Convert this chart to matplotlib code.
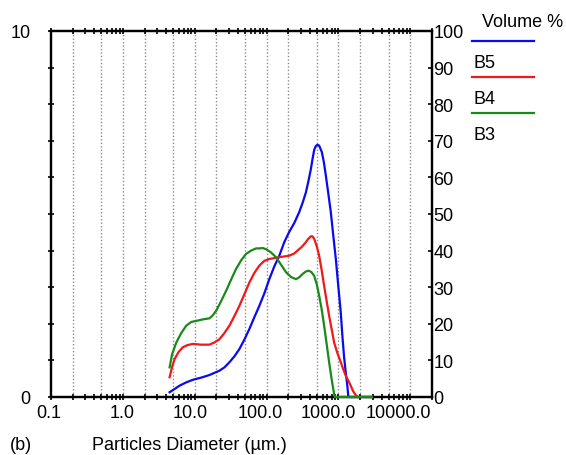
import matplotlib
matplotlib.use("Agg")
import matplotlib.pyplot as plt
from matplotlib.lines import Line2D

plt.rcParams["font.family"] = ["Liberation Sans", "DejaVu Sans"]
plt.rcParams["font.size"] = 13

# particle size distributions (size in um, volume %)
size_b5 = [4.47, 5.25, 6.15, 7.62, 9.41, 12.3, 16.0, 18.8, 22.1, 25.9, 30.4, 35.6,
           41.8, 49.1, 57.6, 67.5, 79.2, 92.9, 109, 128, 150, 176, 206, 242, 284,
           316, 352, 379, 413, 435, 459, 484, 510, 538, 587, 625, 667, 717, 782,
           842, 918, 987, 1076, 1133, 1196, 1263, 1329, 1372, 2900]
vol_b5 = [0.13, 0.22, 0.31, 0.40, 0.47, 0.53, 0.60, 0.66, 0.72, 0.81, 0.95, 1.11,
          1.31, 1.57, 1.86, 2.18, 2.49, 2.83, 3.22, 3.57, 3.86, 4.23, 4.51, 4.75, 5.05,
          5.30, 5.59, 5.87, 6.23, 6.50, 6.75, 6.86, 6.89, 6.87, 6.69, 6.42, 6.05, 5.60, 5.05,
          4.45, 3.77, 3.09, 2.31, 1.67, 1.09, 0.66, 0.30, 0.0, 0.0]

size_b4 = [4.47, 4.84, 5.25, 5.96, 6.84, 7.95, 9.41, 12.3, 16.0, 18.8, 22.1, 25.9,
           30.4, 35.6, 41.8, 49.1, 57.6, 67.5, 79.2, 92.9, 109, 150, 206, 242, 269,
           308, 352, 379, 413, 435, 459, 497, 538, 583, 631, 684, 741, 802, 869, 965,
           1076, 1158, 1263, 1358, 1481, 1594, 1738, 1829, 2900]
vol_b4 = [0.54, 0.82, 1.04, 1.23, 1.36, 1.42, 1.45, 1.43, 1.43, 1.49, 1.58, 1.75,
          1.95, 2.21, 2.49, 2.81, 3.13, 3.39, 3.59, 3.72, 3.77, 3.82, 3.86, 3.92, 4.00,
          4.10, 4.23, 4.32, 4.39, 4.39, 4.32, 4.13, 3.86, 3.47, 3.04, 2.62, 2.22, 1.86, 1.49, 1.20,
          0.95, 0.77, 0.58, 0.46, 0.31, 0.16, 0.05, 0.0, 0.0]

size_b3 = [4.47, 4.84, 5.54, 6.50, 7.62, 8.94, 10.5, 12.95, 16.0, 17.8, 19.9, 23.3,
           27.3, 32.1, 37.6, 44.1, 51.7, 60.8, 71.3, 79.2, 88.0, 98.1, 115, 135, 158,
           186, 218, 256, 284, 316, 352, 383, 417, 459, 497, 538, 583, 631, 684, 741,
           802, 869, 897, 2925]
vol_b3 = [0.81, 1.17, 1.49, 1.75, 1.95, 2.05, 2.08, 2.12, 2.15, 2.23, 2.36, 2.62,
          2.90, 3.21, 3.50, 3.73, 3.91, 4.00, 4.06, 4.06, 4.07, 4.04, 3.95, 3.82, 3.62,
          3.41, 3.28, 3.22, 3.27, 3.36, 3.43, 3.45, 3.42, 3.31, 3.09, 2.77, 2.40, 1.95, 1.45, 0.95,
          0.49, 0.08, 0.0, 0.0]

series = [("B5", size_b5, vol_b5, "#0a0af0"),
          ("B4", size_b4, vol_b4, "#f01818"),
          ("B3", size_b3, vol_b3, "#178a17")]

x_ticks = [0.1, 1.0, 10.0, 100.0, 1000.0, 10000.0]
x_tick_labels = ["0.1", "1.0", "10.0", "100.0", "1000.0", "10000.0"]
x_label_shift = [-2, -1, -5, -6, -10, -12]  # px, labels sit a bit left of the ticks
grid_x = [m * 10.0 ** k for k in range(-1, 5) for m in (1, 2, 5)][1:]

fig = plt.figure(figsize=(5.66, 4.56), dpi=100)
W, H = 566, 456
ax = fig.add_axes([51 / W, 1 - 398 / H, (432 - 51) / W, (398 - 32) / H])
ax2 = ax.twinx()
ax.set_zorder(ax2.get_zorder() + 1)
ax.patch.set_visible(False)

ax.set_xscale("log")
ax.set_xlim(0.1, 20000)
ax.set_ylim(0, 10)
ax2.set_ylim(0, 100)

for gx in grid_x:
    ax.axvline(gx, color="#8c8c8c", lw=1.0, ls=(0, (1, 1.5)), zorder=0)

for name, sx, sy, col in series:
    ax.plot(sx, sy, color=col, lw=1.6, zorder=4, clip_on=False,
            solid_joinstyle="round")

for a in (ax, ax2):
    for s in a.spines.values():
        s.set_linewidth(1.6)

# x ticks (bottom and top), labels drawn separately
ax.set_xticks(x_ticks)
ax.set_xticklabels([])
ax.tick_params(axis="x", which="both", direction="inout", top=True,
               width=1.2, length=5)
for v, lab, dx in zip(x_ticks, x_tick_labels, x_label_shift):
    ax.annotate(lab, xy=(v, 0), xycoords=("data", "axes fraction"),
                xytext=(dx * 0.72, -5), textcoords="offset points",
                ha="center", va="top", fontsize=13)

# left axis 0-10
ax.set_yticks(range(11))
ax.set_yticklabels(["0"] + [""] * 9 + ["10"])
ax.tick_params(axis="y", direction="inout", length=5, width=1.2, pad=12)

# right axis 0-100
ax2.set_yticks(range(0, 101, 10))
ax2.tick_params(axis="y", direction="in", length=3, width=1.2, pad=1)

# legend block on the right
fig.text(482 / W, 1 - 22.5 / H, "Volume %", ha="left", va="center")
for i, (name, sx, sy, col) in enumerate(series):
    ly = 42.3 + 36 * i
    fig.add_artist(Line2D([472 / W, 534 / W], [1 - ly / H] * 2, color=col,
                          lw=1.6, transform=fig.transFigure))
    fig.text(473 / W, 1 - (ly + 21) / H, name, ha="left", va="center")

fig.text(10 / W, 1 - 446 / H, "(b)", ha="left", va="center")
fig.text(92 / W, 1 - 446 / H, "Particles Diameter (µm.)", ha="left", va="center")

fig.savefig("out.png", dpi=100)
